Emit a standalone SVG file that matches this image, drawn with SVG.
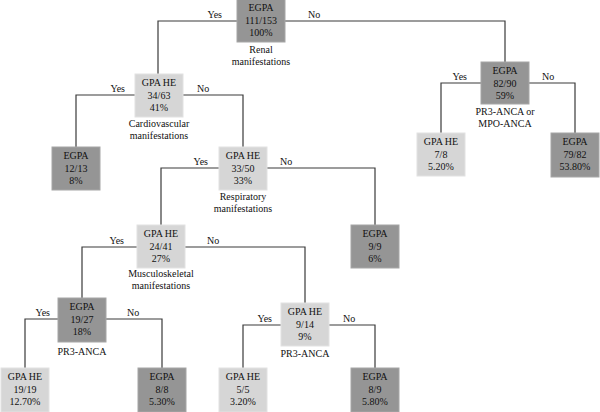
<svg xmlns="http://www.w3.org/2000/svg" width="600" height="412" viewBox="0 0 600 412">
<style>
text{font-family:"Liberation Serif","DejaVu Serif",serif;font-size:10px;fill:#111111;text-anchor:middle}
.dk{fill:#959595;stroke:#a6a6a6;stroke-width:1}
.lt{fill:#d6d6d6;stroke:#e2e2e2;stroke-width:1}
.cn path{fill:none;stroke:#3a3a3a;stroke-width:1.2}
.e{text-anchor:end}
.s{text-anchor:start}
</style>
<rect width="600" height="412" fill="#ffffff"/>
<g class="cn" id="connectors">
<path d="M237,21 H158 V74"/>
<path d="M285,21 H505 V62"/>
<path d="M135,95 H76 V147"/>
<path d="M183,95 H243 V147"/>
<path d="M481,83 H441 V133"/>
<path d="M529,83 H575 V133"/>
<path d="M219,168 H161 V225"/>
<path d="M267,168 H375 V225"/>
<path d="M137,247 H82 V298"/>
<path d="M185,247 H305 V303"/>
<path d="M58,319 H25 V368"/>
<path d="M106,319 H162 V368"/>
<path d="M281,325 H243 V368"/>
<path d="M329,325 H375 V368"/>
<text class="e" x="222" y="18">Yes</text><text class="s" x="308" y="18">No</text>
<text class="e" x="125" y="92">Yes</text><text class="s" x="197" y="92">No</text>
<text class="e" x="467" y="80">Yes</text><text class="s" x="542" y="80">No</text>
<text class="e" x="208" y="165">Yes</text><text class="s" x="280" y="165">No</text>
<text class="e" x="124" y="244">Yes</text><text class="s" x="207" y="244">No</text>
<text class="e" x="50" y="316">Yes</text><text class="s" x="127" y="316">No</text>
<text class="e" x="272" y="322">Yes</text><text class="s" x="343" y="322">No</text>
</g>
<g id="n1"><rect class="dk" x="237" y="-1" width="48" height="43"/><text x="261" y="11">EGPA</text><text x="261" y="23.5">111/153</text><text x="261" y="36">100%</text><text x="261" y="53">Renal</text><text x="261" y="65">manifestations</text></g>
<g id="n2"><rect class="lt" x="135" y="74" width="48" height="43"/><text x="159" y="86">GPA HE</text><text x="159" y="98.5">34/63</text><text x="159" y="110.5">41%</text><text x="159" y="127">Cardiovascular</text><text x="159" y="139">manifestations</text></g>
<g id="n3"><rect class="dk" x="481" y="62" width="48" height="42"/><text x="505" y="74">EGPA</text><text x="505" y="86.5">82/90</text><text x="505" y="98.5">59%</text><text x="505" y="115">PR3-ANCA or</text><text x="505" y="127">MPO-ANCA</text></g>
<g id="n4"><rect class="dk" x="52" y="147" width="48" height="43"/><text x="76" y="159">EGPA</text><text x="76" y="171.5">12/13</text><text x="76" y="183.5">8%</text></g>
<g id="n5"><rect class="lt" x="219" y="147" width="48" height="43"/><text x="243" y="159">GPA HE</text><text x="243" y="171.5">33/50</text><text x="243" y="183.5">33%</text><text x="243" y="200">Respiratory</text><text x="243" y="212">manifestations</text></g>
<g id="n6"><rect class="lt" x="417" y="133" width="48" height="43"/><text x="441" y="145">GPA HE</text><text x="441" y="157.5">7/8</text><text x="441" y="169.5">5.20%</text></g>
<g id="n7"><rect class="dk" x="551" y="133" width="48" height="44"/><text x="575" y="145">EGPA</text><text x="575" y="157.5">79/82</text><text x="575" y="169.5">53.80%</text></g>
<g id="n8"><rect class="lt" x="137" y="225" width="48" height="43"/><text x="161" y="237">GPA HE</text><text x="161" y="249.5">24/41</text><text x="161" y="261.5">27%</text><text x="161" y="277">Musculoskeletal</text><text x="161" y="289">manifestations</text></g>
<g id="n9"><rect class="dk" x="351" y="225" width="48" height="43"/><text x="375" y="237">EGPA</text><text x="375" y="249.5">9/9</text><text x="375" y="261.5">6%</text></g>
<g id="n10"><rect class="dk" x="58" y="298" width="48" height="44"/><text x="82" y="310">EGPA</text><text x="82" y="322.5">19/27</text><text x="82" y="334.5">18%</text><text x="82" y="355">PR3-ANCA</text></g>
<g id="n11"><rect class="lt" x="281" y="303" width="48" height="43"/><text x="305" y="315">GPA HE</text><text x="305" y="327.5">9/14</text><text x="305" y="339.5">9%</text><text x="305" y="357">PR3-ANCA</text></g>
<g id="n12"><rect class="lt" x="1" y="368" width="48" height="44"/><text x="25" y="380">GPA HE</text><text x="25" y="392.5">19/19</text><text x="25" y="404.5">12.70%</text></g>
<g id="n13"><rect class="dk" x="138" y="368" width="48" height="44"/><text x="162" y="380">EGPA</text><text x="162" y="392.5">8/8</text><text x="162" y="404.5">5.30%</text></g>
<g id="n14"><rect class="lt" x="219" y="368" width="48" height="44"/><text x="243" y="380">GPA HE</text><text x="243" y="392.5">5/5</text><text x="243" y="404.5">3.20%</text></g>
<g id="n15"><rect class="dk" x="351" y="368" width="48" height="44"/><text x="375" y="380">EGPA</text><text x="375" y="392.5">8/9</text><text x="375" y="404.5">5.80%</text></g>
</svg>
